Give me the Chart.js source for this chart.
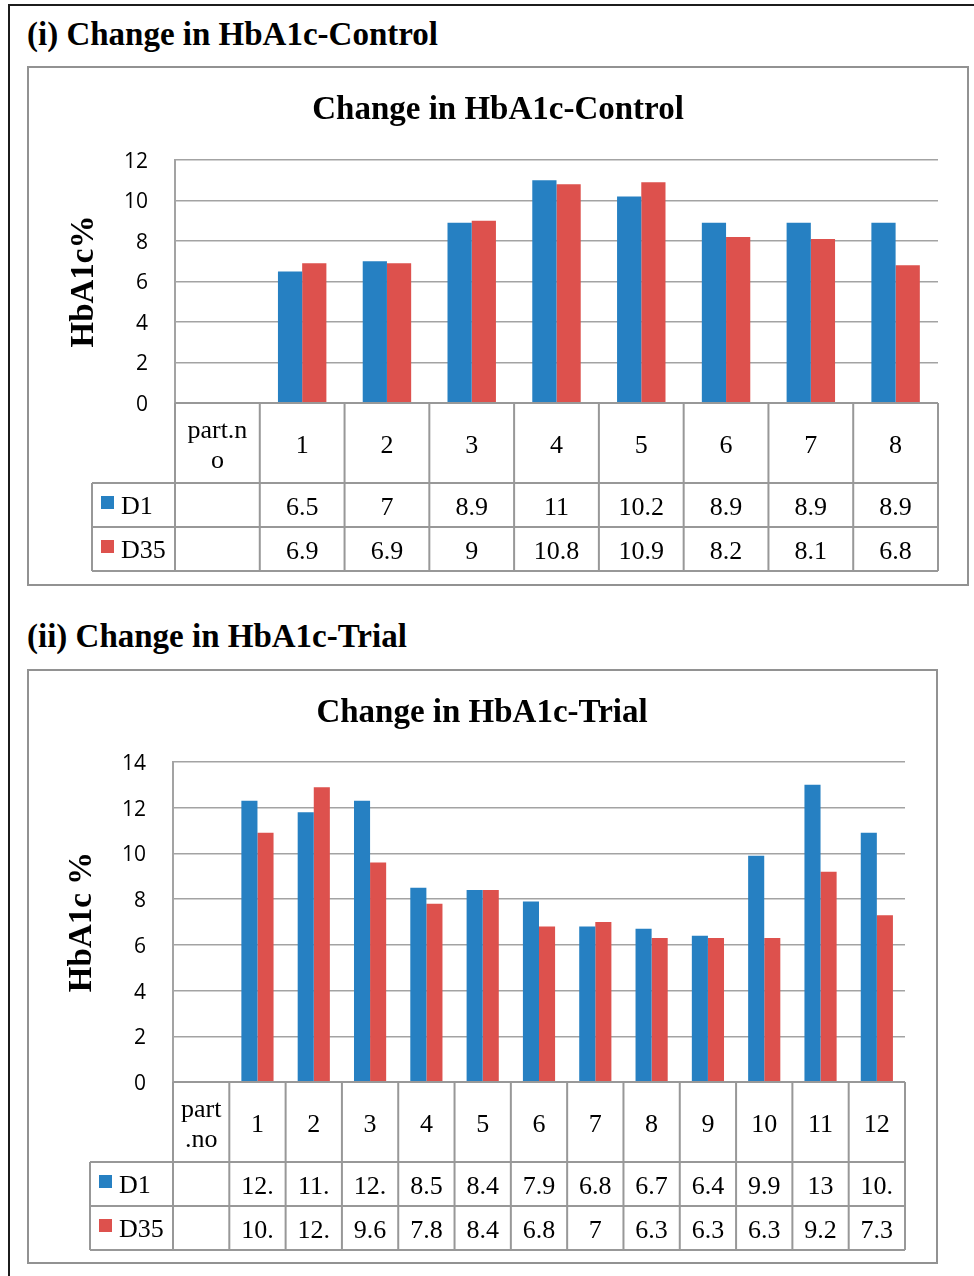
<!DOCTYPE html>
<html>
<head>
<meta charset="utf-8">
<title>Change in HbA1c</title>
<script src="https://cdn.jsdelivr.net/npm/chart.js@4.4.1/dist/chart.umd.min.js"></script>
<style>
  html, body { margin: 0; padding: 0; background: #fff; }
  body { width: 974px; height: 1276px; position: relative; overflow: hidden; }
  .outer { position: absolute; left: 8px; top: 4px; width: 1000px; height: 1300px;
           border-left: 2px solid #1c1c1c; border-top: 2px solid #1c1c1c; }
  .heading { position: absolute; left: 27px; font: bold 33px "Liberation Serif", "Times New Roman", serif;
             line-height: 38px; color: #000; white-space: nowrap; }
  .frame { position: absolute; box-sizing: border-box; border: 2px solid #929292; }
  canvas { position: absolute; }
</style>
</head>
<body>
<div class="outer"></div>

<div class="heading" style="top:15px">(i) Change in HbA1c-Control</div>
<div class="frame" style="left:27px;top:66px;width:942px;height:520px"></div>
<canvas id="control" width="936" height="514" style="left:30px;top:69px"></canvas>

<div class="heading" style="top:617px">(ii) Change in HbA1c-Trial</div>
<div class="frame" style="left:27px;top:669px;width:911px;height:595px"></div>
<canvas id="trial" width="904" height="589" style="left:30px;top:672px"></canvas>

<script>
// Series
const seriesNames = ['D1', 'D35'];
const seriesColors = ['#2680C2', '#DD514D'];

// Control group (participants 1-8)
const controlCategories = [['part.n', 'o'], '1', '2', '3', '4', '5', '6', '7', '8'];
const controlD1  = [6.5, 7, 8.9, 11, 10.2, 8.9, 8.9, 8.9];
const controlD35 = [6.9, 6.9, 9, 10.8, 10.9, 8.2, 8.1, 6.8];
const controlYTicks = [0, 2, 4, 6, 8, 10, 12];

// Trial group (participants 1-12)
const trialCategories = [['part', '.no'], '1', '2', '3', '4', '5', '6', '7', '8', '9', '10', '11', '12'];
const trialD1  = [12.3, 11.8, 12.3, 8.5, 8.4, 7.9, 6.8, 6.7, 6.4, 9.9, 13, 10.9];
const trialD35 = [10.9, 12.9, 9.6, 7.8, 8.4, 6.8, 7, 6.3, 6.3, 6.3, 9.2, 7.3];
const trialYTicks = [0, 2, 4, 6, 8, 10, 12, 14];

const GRID = '#a3a3a3';
const TABLE_LINE = '#989898';
const SERIF = '"Liberation Serif", "Times New Roman", serif';

// Data table under the plot: header row of categories, then one row per series
const dataTablePlugin = {
  id: 'dataTable',
  afterDraw(chart, args, opts) {
    const { ctx, chartArea: ca, scales: { x } } = chart;
    const labels = chart.data.labels;
    const n = labels.length;
    const colW = (ca.right - ca.left) / n;
    const y0 = ca.bottom;
    const y1 = y0 + opts.headerHeight;
    const y2 = y1 + opts.rowHeight;
    const y3 = y2 + opts.rowHeight;
    const left = opts.legendLeft;
    const maxChars = opts.maxChars;

    ctx.save();
    ctx.font = '26px ' + SERIF;
    ctx.fillStyle = '#000';
    ctx.textAlign = 'center';
    ctx.textBaseline = 'alphabetic';

    // header: category labels
    const hc = (y0 + y1) / 2;
    labels.forEach((lab, i) => {
      const lines = Array.isArray(lab) ? lab : [lab];
      const cx = x.getPixelForValue(i);
      lines.forEach((t, k) => {
        ctx.fillText(t, cx, hc + 10 + (k - (lines.length - 1) / 2) * 30);
      });
    });

    // series rows
    chart.data.datasets.forEach((ds, r) => {
      const top = r === 0 ? y1 : y2;
      const cy = top + opts.rowHeight / 2;
      ctx.fillStyle = ds.backgroundColor;
      ctx.fillRect(left + 9, cy - 9, 13, 13);
      ctx.fillStyle = '#000';
      ctx.textAlign = 'left';
      ctx.fillText(ds.label, left + 29, cy + 9);
      ctx.textAlign = 'center';
      ds.data.forEach((v, i) => {
        if (v === null || v === undefined) return;
        let s = String(v);
        if (maxChars > 0) s = s.slice(0, maxChars);
        ctx.fillText(s, x.getPixelForValue(i), cy + 10);
      });
    });

    // borders
    ctx.strokeStyle = TABLE_LINE;
    ctx.lineWidth = 2;
    ctx.beginPath();
    ctx.moveTo(ca.left, y0); ctx.lineTo(ca.right, y0);
    [y1, y2, y3].forEach(yy => { ctx.moveTo(left, yy); ctx.lineTo(ca.right, yy); });
    for (let i = 0; i <= n; i++) {
      const xx = ca.left + i * colW;
      ctx.moveTo(xx, y0); ctx.lineTo(xx, y3);
    }
    ctx.moveTo(left, y1); ctx.lineTo(left, y3);
    ctx.stroke();
    ctx.restore();
  }
};

function makeChart(id, cfg) {
  const ticks = cfg.yTicks;
  return new Chart(document.getElementById(id), {
    type: 'bar',
    data: {
      labels: cfg.categories,
      datasets: [
        { label: seriesNames[0], data: [null, ...cfg.d1], backgroundColor: seriesColors[0] },
        { label: seriesNames[1], data: [null, ...cfg.d35], backgroundColor: seriesColors[1] }
      ]
    },
    options: {
      responsive: false,
      animation: false,
      events: [],
      datasets: { bar: { categoryPercentage: 0.5714, barPercentage: 1, borderWidth: 0 } },
      layout: { padding: { left: cfg.pad, top: 0, right: cfg.pad, bottom: cfg.padBottom } },
      plugins: {
        legend: { display: false },
        tooltip: { enabled: false },
        title: {
          display: true,
          text: cfg.title,
          color: '#000',
          font: { family: SERIF, size: 33, weight: 'bold', lineHeight: 1.2 },
          padding: { top: 22, bottom: cfg.titleBottom }
        },
        dataTable: { legendLeft: cfg.legendLeft, headerHeight: 80, rowHeight: 44, maxChars: cfg.maxChars }
      },
      scales: {
        x: {
          grid: { display: false },
          border: { display: false },
          ticks: { display: false },
          afterFit(s) { s.height = 0; }
        },
        y: {
          min: ticks[0],
          max: ticks[ticks.length - 1],
          afterBuildTicks(s) { s.ticks = ticks.map(v => ({ value: v })); },
          grid: { color: GRID, lineWidth: 1.5, drawTicks: false },
          border: { display: true, color: GRID, width: 2 },
          ticks: {
            color: '#000',
            padding: 27,
            labelOffset: 2,
            font: { family: '"Open Sans", sans-serif', size: 21 }
          },
          title: {
            display: true,
            text: cfg.yTitle,
            color: '#000',
            font: { family: SERIF, size: 33, weight: 'bold', lineHeight: 1.2 },
            padding: { top: cfg.yTitleOffset, bottom: 0 }
          },
          afterFit(s) { s.width = cfg.yWidth; }
        }
      }
    },
    plugins: [dataTablePlugin]
  });
}

makeChart('control', {
  title: 'Change in HbA1c-Control',
  yTitle: 'HbA1c%',
  categories: controlCategories,
  d1: controlD1,
  d35: controlD35,
  yTicks: controlYTicks,
  pad: 28,
  yWidth: 117,
  yTitleOffset: 7,
  padBottom: 180,
  titleBottom: 29.4,
  legendLeft: 62,
  maxChars: 0
});

makeChart('trial', {
  title: 'Change in HbA1c-Trial',
  yTitle: 'HbA1c %',
  categories: trialCategories,
  d1: trialD1,
  d35: trialD35,
  yTicks: trialYTicks,
  pad: 29,
  yWidth: 114,
  yTitleOffset: 4,
  padBottom: 179,
  titleBottom: 28.4,
  legendLeft: 60,
  maxChars: 3
});
</script>
</body>
</html>
